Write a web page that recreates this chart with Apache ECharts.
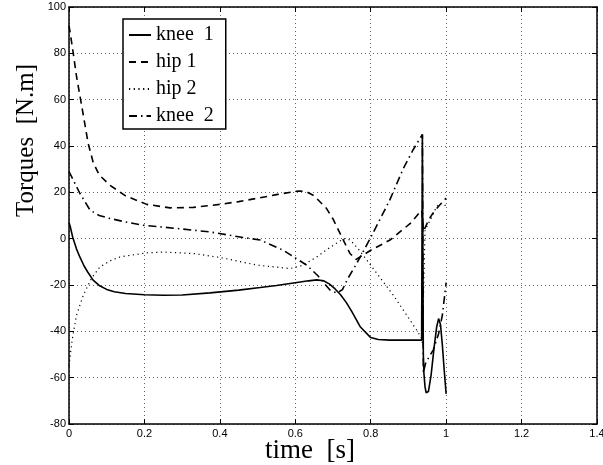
<!DOCTYPE html>
<html>
<head>
<meta charset="utf-8">
<script src="https://cdn.jsdelivr.net/npm/echarts@6/dist/echarts.min.js"></script>
<style>
html,body{margin:0;padding:0;background:#fff;}
#chart{width:603px;height:465px;}
</style>
</head>
<body>
<div id="chart"></div>
<script>
// ---- data ----
var xTicks = [0, 0.2, 0.4, 0.6, 0.8, 1, 1.2, 1.4];
var yTicks = [-80, -60, -40, -20, 0, 20, 40, 60, 80, 100];
var seriesNames = ['knee  1', 'hip 1', 'hip 2', 'knee  2'];

var knee1T = [0, 0.003, 0.01, 0.02, 0.029, 0.04, 0.05, 0.064, 0.08, 0.1, 0.12, 0.15, 0.2, 0.25, 0.3, 0.374, 0.45, 0.507, 0.55, 0.6, 0.635, 0.657, 0.675, 0.69, 0.705, 0.72, 0.735, 0.75, 0.772, 0.8, 0.82, 0.85, 0.9, 0.935, 0.937, 0.9395, 0.941, 0.944, 0.947, 0.949, 0.953, 0.96, 0.968, 0.975, 0.98, 0.985, 0.99, 0.995, 1.0];
var knee1V = [7, 5.4, 0.5, -4.5, -8, -11.8, -14.5, -17.9, -20.2, -21.9, -22.9, -23.7, -24.2, -24.4, -24.3, -23.4, -22.2, -21.1, -20.2, -19, -18.2, -17.8, -18.2, -19.5, -21.6, -24.2, -27.5, -31.5, -38, -42.7, -43.5, -43.8, -43.8, -43.8, 45, -50, -58, -64, -66.5, -67, -66, -59, -47, -38, -34.5, -37, -46, -57, -67];

var hip1T = [0, 0.003, 0.01, 0.02, 0.034, 0.051, 0.064, 0.08, 0.109, 0.15, 0.206, 0.268, 0.33, 0.4, 0.45, 0.498, 0.55, 0.6, 0.613, 0.63, 0.65, 0.683, 0.7, 0.719, 0.745, 0.761, 0.8, 0.851, 0.905, 0.935, 0.937, 0.94, 0.945, 0.955, 0.965, 0.98, 1.0];
var hip1V = [92, 89, 81.5, 70, 57, 41, 33, 27.5, 23, 18.5, 14.8, 13.3, 13.5, 14.8, 16, 17.4, 19, 20.4, 20.6, 20.2, 18.5, 13, 8.5, 2.2, -6.4, -9, -5, -0.6, 6.6, 12.3, 13, 3, 5, 8.5, 11, 14, 17.5];

var hip2T = [0, 0.005, 0.01, 0.02, 0.038, 0.06, 0.082, 0.11, 0.135, 0.206, 0.25, 0.33, 0.4, 0.498, 0.586, 0.62, 0.657, 0.69, 0.728, 0.745, 0.765, 0.79, 0.86, 0.922, 0.935, 0.937, 0.944, 0.962, 0.975, 0.99, 1.0];
var hip2V = [-55, -48, -42, -33, -24.4, -17, -12.2, -9.5, -7.9, -6.1, -5.8, -6.4, -8.1, -11.4, -12.9, -11.5, -7.9, -4, 0, -0.5, -4, -9.3, -24.4, -39.5, -43, -45, 3.7, 9.4, 14, 15.5, 14];

var knee2T = [0, 0.003, 0.029, 0.056, 0.08, 0.109, 0.15, 0.197, 0.286, 0.374, 0.462, 0.507, 0.568, 0.63, 0.66, 0.692, 0.71, 0.725, 0.74, 0.76, 0.772, 0.8, 0.85, 0.887, 0.913, 0.937, 0.9395, 0.945, 0.955, 0.966, 0.98, 0.99, 1.0];
var knee2V = [29, 28.2, 19.5, 12.3, 10, 8.7, 7.2, 5.8, 4.4, 2.9, 0.5, -0.6, -5, -11.4, -16, -22.2, -23.5, -22, -17, -11.5, -8, 0.5, 16.5, 30.5, 38.5, 45, -58, -54, -51, -48, -41, -33, -19];

function pairs(t, v) { return t.map(function (x, i) { return [x, v[i]]; }); }

var chart = echarts.init(document.getElementById('chart'), null, {renderer: 'canvas'});
var serif = 'Liberation Serif, Times New Roman, serif';
var tickFont = {fontFamily: 'Liberation Sans, Arial, sans-serif', fontSize: 11, color: '#000'};
var gridLine = {show: true, lineStyle: {color: '#666', width: 1, type: [1, 3]}};
function axisLineStyle() { return {show: true, onZero: false, lineStyle: {color: '#000', width: 1.5}}; }
function ticks() { return {show: true, inside: true, length: 5, lineStyle: {color: '#000', width: 1}}; }

var option = {
  backgroundColor: '#fff',
  animation: false,
  grid: {left: 69, right: 6, top: 7, bottom: 41, containLabel: false, outerBoundsMode: 'none'},
  legend: {
    show: true,
    orient: 'vertical',
    left: 123, top: 19,
    data: seriesNames,
    backgroundColor: '#fff',
    borderColor: '#000', borderWidth: 1.5, borderRadius: 0,
    padding: [6, 12, 3, 5],
    itemWidth: 22, itemHeight: 14, itemGap: 7,
    itemStyle: {color: 'rgba(0,0,0,0)', borderColor: 'rgba(0,0,0,0)', borderWidth: 0, opacity: 0},
    textStyle: {fontFamily: serif, fontSize: 20, color: '#000'}
  },
  xAxis: [{
    type: 'value', min: 0, max: 1.4, interval: 0.2,
    name: 'time  [s]', nameLocation: 'middle', nameGap: 13, nameMoveOverlap: false,
    nameTextStyle: {fontFamily: serif, fontSize: 27, color: '#000', verticalAlign: 'top', padding: [0, 46, 0, 0]},
    axisLine: axisLineStyle(),
    axisTick: ticks(),
    axisLabel: Object.assign({margin: 4}, tickFont),
    splitLine: gridLine
  }, {
    type: 'value', min: 0, max: 1.4, interval: 0.2, position: 'top',
    axisLine: axisLineStyle(),
    axisTick: ticks(),
    axisLabel: {show: false}, splitLine: {show: false}
  }],
  yAxis: [{
    type: 'value', min: -80, max: 100, interval: 20,
    name: 'Torques  [N.m]', nameLocation: 'middle', nameGap: 30, nameRotate: 90, nameMoveOverlap: false,
    nameTextStyle: {fontFamily: serif, fontSize: 25, color: '#000', padding: [0, 0, 0, 150]},
    axisLine: axisLineStyle(),
    axisTick: ticks(),
    axisLabel: Object.assign({margin: 3}, tickFont),
    splitLine: gridLine
  }, {
    type: 'value', min: -80, max: 100, interval: 20, position: 'right',
    axisLine: axisLineStyle(),
    axisTick: ticks(),
    axisLabel: {show: false}, splitLine: {show: false}
  }],
  series: [
    {name: seriesNames[0], type: 'line', data: pairs(knee1T, knee1V), showSymbol: false, symbol: 'none',
     lineStyle: {color: '#000', width: 1.6, type: 'solid'}, itemStyle: {color: '#000'}},
    {name: seriesNames[1], type: 'line', data: pairs(hip1T, hip1V), showSymbol: false, symbol: 'none',
     lineStyle: {color: '#000', width: 1.6, type: [7, 5]}, itemStyle: {color: '#000'}},
    {name: seriesNames[2], type: 'line', data: pairs(hip2T, hip2V), showSymbol: false, symbol: 'none',
     lineStyle: {color: '#000', width: 1.2, type: [1.2, 3.5]}, itemStyle: {color: '#000'}},
    {name: seriesNames[3], type: 'line', data: pairs(knee2T, knee2V), showSymbol: false, symbol: 'none',
     lineStyle: {color: '#000', width: 1.6, type: [8, 4, 1.5, 4]}, itemStyle: {color: '#000'}}
  ]
};
chart.setOption(option);
</script>
</body>
</html>
